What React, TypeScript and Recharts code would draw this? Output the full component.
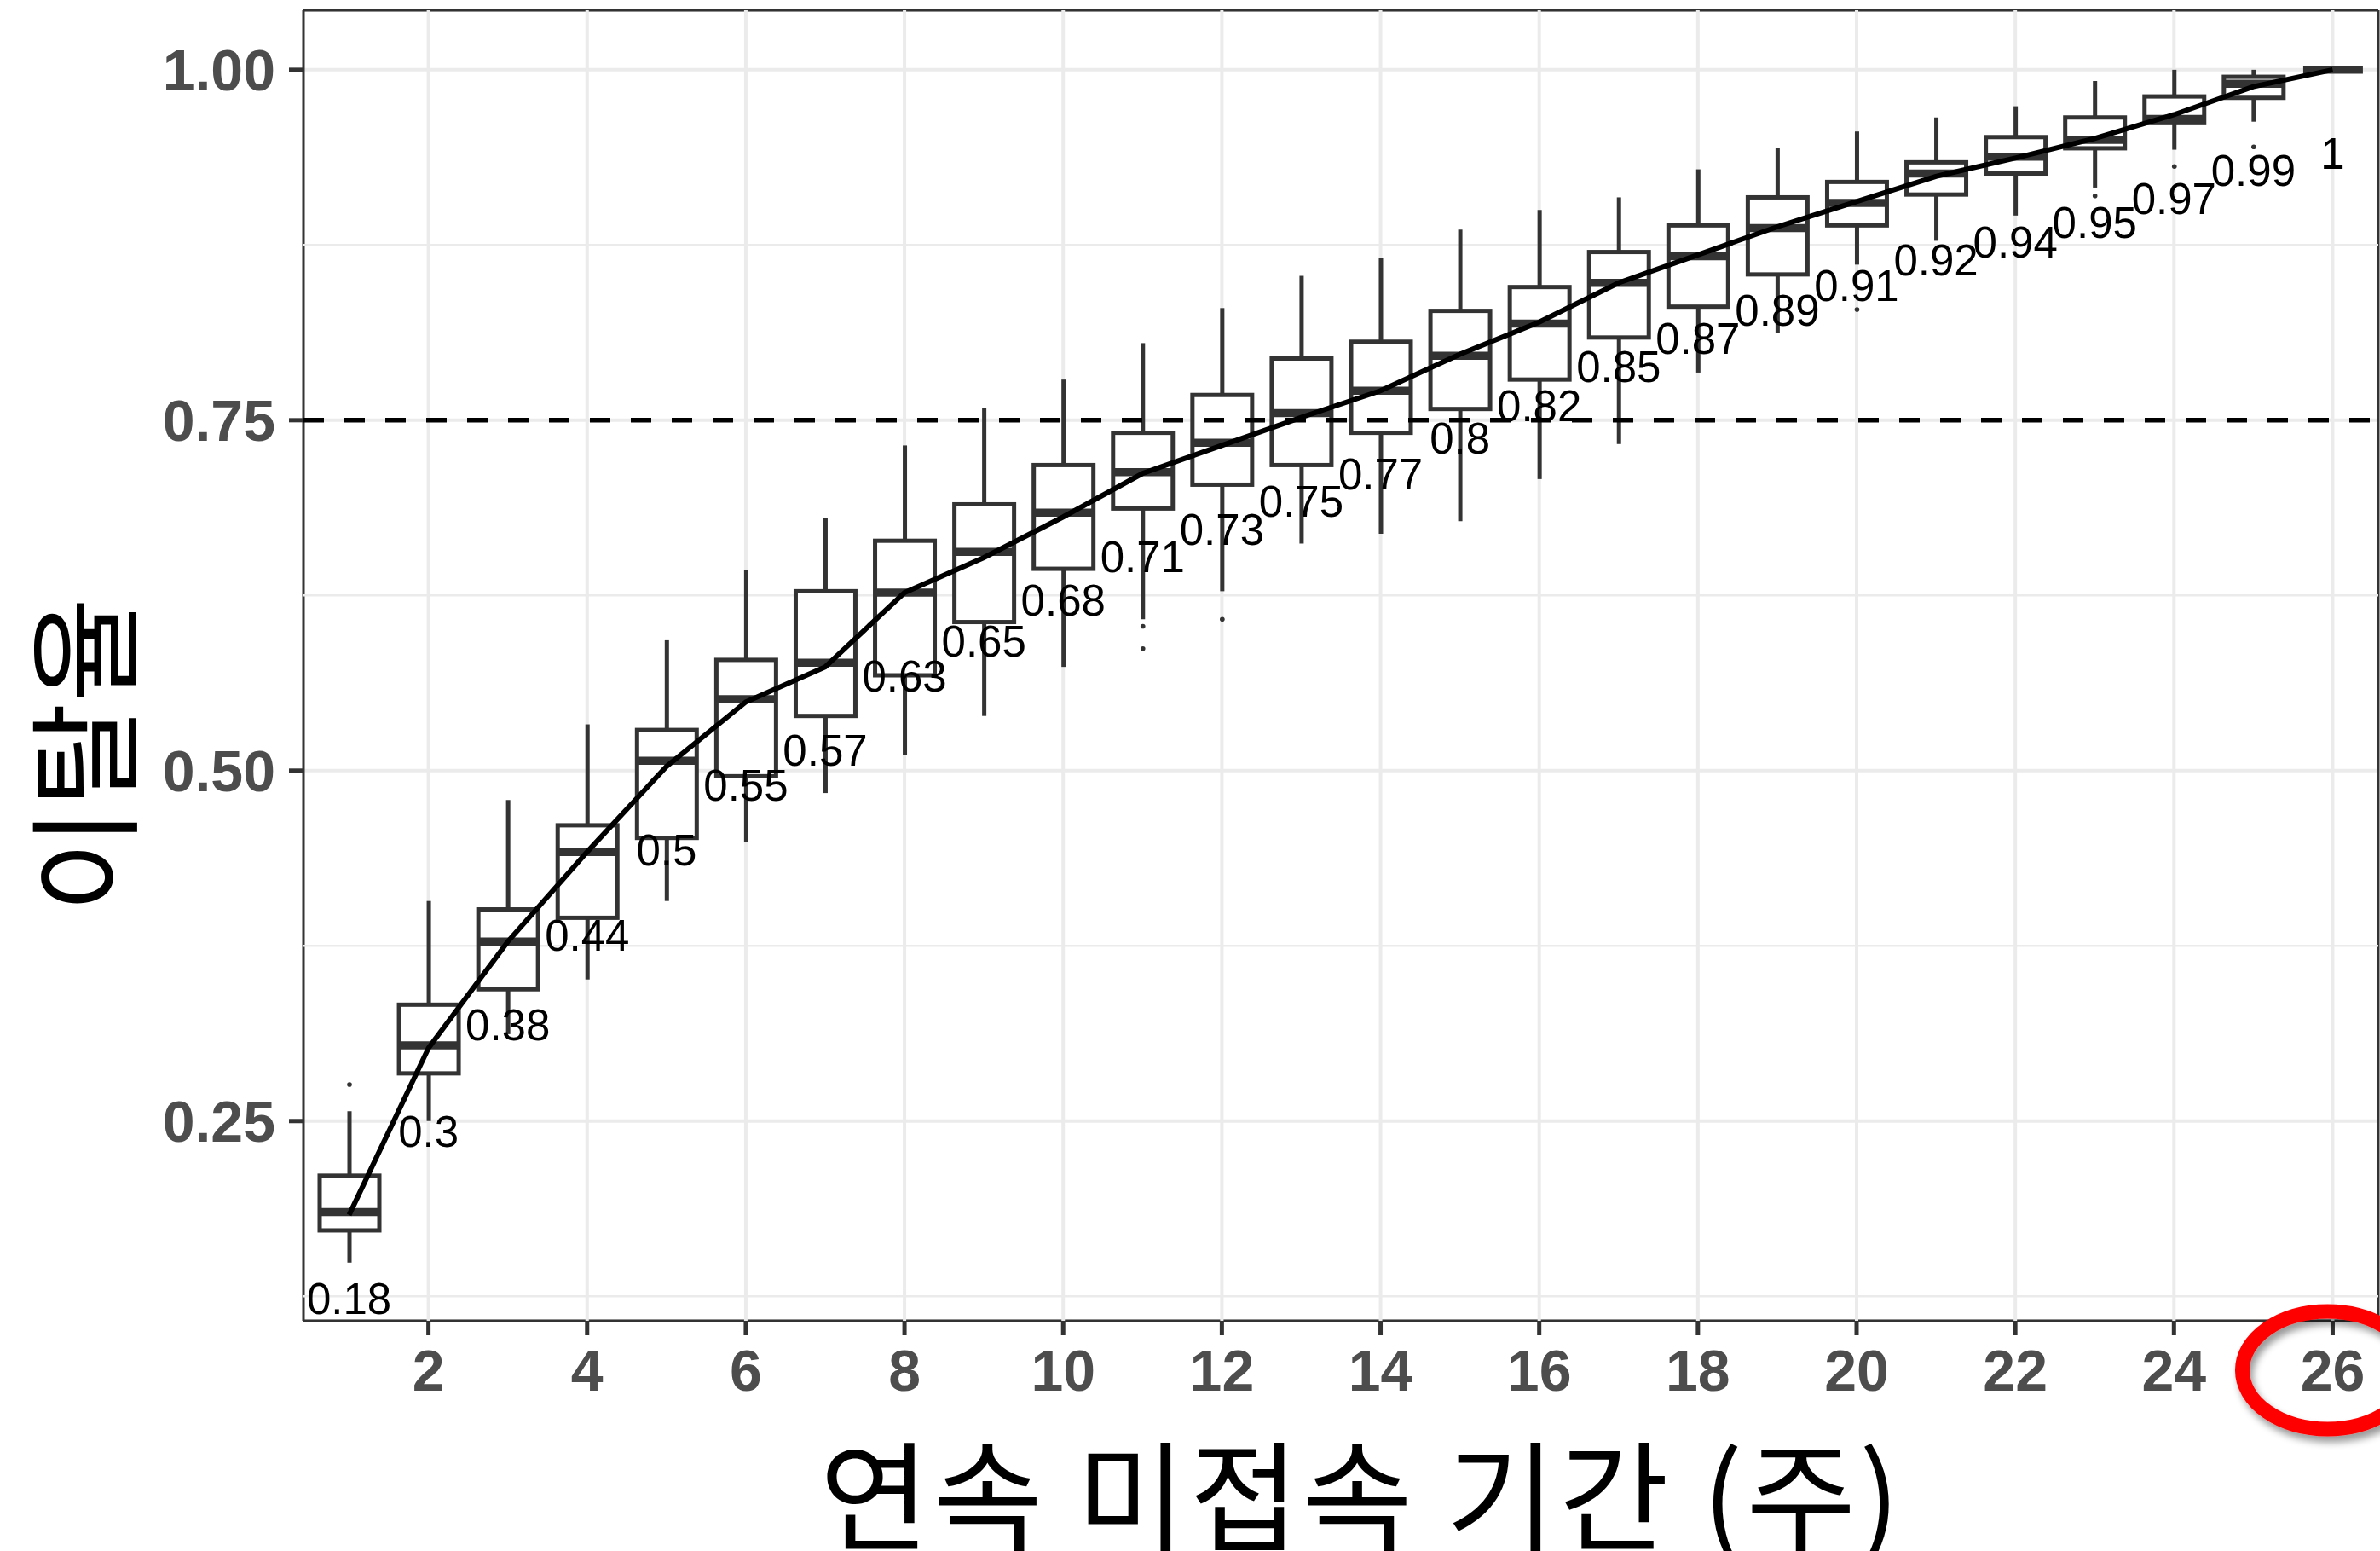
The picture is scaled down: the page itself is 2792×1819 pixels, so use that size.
import React from "react"
import {
  ComposedChart,
  Bar,
  Line,
  XAxis,
  YAxis,
  CartesianGrid,
  ReferenceLine,
  LabelList,
} from "recharts"

// weeks of continuous non-access (x categories)
const weeks = [1, 2, 3, 4, 5, 6, 7, 8, 9, 10, 11, 12, 13, 14, 15, 16, 17, 18, 19, 20, 21, 22, 23, 24, 25, 26]

// boxplot stats per week
const whiskerLow = [0.149, 0.25, 0.312, 0.351, 0.407, 0.449, 0.484, 0.511, 0.539, 0.574, 0.608, 0.628, 0.662, 0.669, 0.678, 0.708, 0.733, 0.784, 0.812, 0.861, 0.878, 0.896, 0.916, 0.943, 0.963, 1.0]
const lowerQuartile = [0.172, 0.284, 0.344, 0.395, 0.452, 0.496, 0.539, 0.568, 0.606, 0.644, 0.687, 0.704, 0.718, 0.741, 0.758, 0.779, 0.809, 0.831, 0.854, 0.889, 0.911, 0.926, 0.944, 0.962, 0.98, 1.0]
const medians = [0.185, 0.304, 0.378, 0.442, 0.507, 0.551, 0.577, 0.627, 0.656, 0.684, 0.713, 0.734, 0.755, 0.771, 0.796, 0.819, 0.848, 0.867, 0.887, 0.905, 0.926, 0.938, 0.95, 0.965, 0.99, 1.0]
const upperQuartile = [0.211, 0.333, 0.401, 0.461, 0.529, 0.579, 0.628, 0.664, 0.69, 0.718, 0.741, 0.768, 0.794, 0.806, 0.828, 0.845, 0.87, 0.889, 0.909, 0.92, 0.934, 0.952, 0.966, 0.981, 0.995, 1.0]
const whiskerHigh = [0.257, 0.407, 0.479, 0.533, 0.593, 0.643, 0.68, 0.732, 0.759, 0.779, 0.805, 0.83, 0.853, 0.866, 0.886, 0.9, 0.909, 0.929, 0.944, 0.956, 0.966, 0.974, 0.992, 1.0, 1.0, 1.0]
const outliers: number[][] = [
  [0.276], [], [], [], [], [], [], [], [], [], [0.603, 0.587], [0.608], [],
  [], [], [], [], [], [], [0.829], [], [], [0.91], [0.931], [0.945], [],
]

// churn rate line (labelled values)
const churnRate = [0.183, 0.302, 0.378, 0.442, 0.503, 0.549, 0.574, 0.627, 0.652, 0.681, 0.712, 0.732, 0.752, 0.771, 0.797, 0.82, 0.848, 0.868, 0.888, 0.906, 0.924, 0.937, 0.951, 0.968, 0.988, 1.0]

const yTicks = [0.25, 0.5, 0.75, 1.0]
const yMinorTicks = [0.125, 0.375, 0.625, 0.875]
const xLabelWeeks = [2, 4, 6, 8, 10, 12, 14, 16, 18, 20, 22, 24, 26]
const circledWeek = 26
const threshold = 0.75

const WIDTH = 2792
const HEIGHT = 1819
const MARGIN = { top: 12, right: 2, left: 0, bottom: 0 }
const Y_AXIS_W = 356
const X_AXIS_H = 270
const Y_DOMAIN: [number, number] = [0.1075, 1.0425]
const PLOT_H = HEIGHT - MARGIN.top - MARGIN.bottom - X_AXIS_H
const LABEL_DROP = (0.06 * PLOT_H) / (Y_DOMAIN[1] - Y_DOMAIN[0])

const NUM_FONT = "'Liberation Sans', Arial, sans-serif"
const KO_FONT = "'Noto Sans CJK KR', sans-serif"
const INK = "#333333"
const GRID = "#ebebeb"

const data = weeks.map((week, i) => ({
  week,
  range: [whiskerLow[i], whiskerHigh[i]],
  lo: whiskerLow[i],
  q1: lowerQuartile[i],
  med: medians[i],
  q3: upperQuartile[i],
  hi: whiskerHigh[i],
  out: outliers[i],
  rate: churnRate[i],
}))

function BoxShape(props: any) {
  const { x, y, width, height, payload } = props
  if (x == null || y == null || !payload) return <g />
  const top = Math.min(y, y + height)
  const bottom = Math.max(y, y + height)
  const span = payload.hi - payload.lo
  const py = (v: number) => (span > 0 ? top + ((payload.hi - v) / span) * (bottom - top) : top)
  const cx = x + width / 2
  return (
    <g>
      <line x1={cx} x2={cx} y1={py(payload.hi)} y2={py(payload.q3)} stroke={INK} strokeWidth={5} />
      <line x1={cx} x2={cx} y1={py(payload.q1)} y2={py(payload.lo)} stroke={INK} strokeWidth={5} />
      <rect
        x={x}
        y={py(payload.q3)}
        width={width}
        height={Math.max(py(payload.q1) - py(payload.q3), 0)}
        fill="#ffffff"
        stroke={INK}
        strokeWidth={5}
      />
      <line x1={x} x2={x + width} y1={py(payload.med)} y2={py(payload.med)} stroke={INK} strokeWidth={9.5} />
      {payload.out.map((v: number, k: number) => (
        <circle key={k} cx={cx} cy={py(v)} r={2.8} fill={INK} />
      ))}
    </g>
  )
}

function WeekTick(props: any) {
  const { x, y, payload } = props
  const w = Number(payload.value)
  if (!xLabelWeeks.includes(w)) return <g />
  return (
    <g>
      <line x1={x} x2={x} y1={y} y2={y + 17} stroke={INK} strokeWidth={5} />
      <text
        x={x}
        y={y + 58}
        textAnchor="middle"
        dominantBaseline="central"
        fontFamily={NUM_FONT}
        fontWeight={700}
        fontSize={68}
        fill="#4d4d4d"
      >
        {w}
      </text>
      {w === circledWeek && (
        <g>
          <defs>
            <filter id="ringShadow" x="-30%" y="-30%" width="160%" height="160%">
              <feDropShadow dx="4" dy="7" stdDeviation="4" floodColor="#000" floodOpacity="0.4" />
            </filter>
          </defs>
          <ellipse
            cx={x - 6}
            cy={y + 58}
            rx={100}
            ry={69}
            fill="none"
            stroke="#ff0000"
            strokeWidth={17}
            filter="url(#ringShadow)"
          />
        </g>
      )}
    </g>
  )
}

function RateLabel(props: any) {
  const { x, y, value } = props
  if (x == null || y == null) return null
  return (
    <text
      x={x}
      y={y + LABEL_DROP}
      textAnchor="middle"
      dominantBaseline="central"
      fontFamily={NUM_FONT}
      fontSize={51}
      fill="#000"
    >
      {String(Number(Number(value).toFixed(2)))}
    </text>
  )
}

export default function App() {
  return (
    <div style={{ position: "absolute", top: 0, left: 0, width: WIDTH, height: HEIGHT, background: "#fff" }}>
      <ComposedChart width={WIDTH} height={HEIGHT} data={data} margin={MARGIN}>
        <CartesianGrid vertical={false} stroke={GRID} strokeWidth={4} />
        <CartesianGrid
          stroke={INK}
          strokeWidth={3}
          fill="none"
          horizontalCoordinatesGenerator={({ offset }: any) =>
            offset ? [offset.top, offset.top + offset.height] : []
          }
          verticalCoordinatesGenerator={({ offset }: any) =>
            offset ? [offset.left, offset.left + offset.width] : []
          }
        />
        <XAxis
          dataKey="week"
          type="category"
          height={X_AXIS_H}
          padding={{ left: 7, right: 7 }}
          interval={0}
          tickSize={0}
          tickMargin={0}
          tickLine={false}
          axisLine={false}
          tick={<WeekTick />}
          label={{
            content: ({ viewBox }: any) => (
              <text
                x={viewBox.x + viewBox.width / 2 + 24}
                y={viewBox.y + 198}
                textAnchor="middle"
                dominantBaseline="central"
                fontFamily={KO_FONT}
                fontWeight={400}
                fontSize={140}
                letterSpacing={4}
                fill="#000"
              >
                연속 미접속 기간 (주)
              </text>
            ),
          }}
        />
        <YAxis
          type="number"
          width={Y_AXIS_W}
          domain={Y_DOMAIN}
          allowDataOverflow
          ticks={yTicks}
          tickFormatter={(v: number) => v.toFixed(2)}
          tick={{ fontSize: 68, fontWeight: 700, fill: "#4d4d4d", fontFamily: NUM_FONT }}
          tickSize={17}
          tickMargin={16}
          tickLine={{ stroke: INK, strokeWidth: 5 }}
          axisLine={false}
          label={{
            content: ({ viewBox }: any) => (
              <text
                transform={`translate(${viewBox.x + 92}, ${viewBox.y + viewBox.height / 2 + 105}) rotate(-90)`}
                textAnchor="middle"
                dominantBaseline="central"
                fontFamily={KO_FONT}
                fontWeight={400}
                fontSize={134}
                fill="#000"
              >
                이탈율
              </text>
            ),
          }}
        />
        {yMinorTicks.map((v) => (
          <ReferenceLine key={`mn${v}`} y={v} stroke={GRID} strokeWidth={2.5} zIndex={-90} />
        ))}
        {xLabelWeeks.map((w) => (
          <ReferenceLine key={`vx${w}`} x={w} stroke={GRID} strokeWidth={4} position="middle" zIndex={-90} />
        ))}
        <Bar dataKey="range" barSize={70} shape={<BoxShape />} isAnimationActive={false} />
        <ReferenceLine y={threshold} stroke="#000" strokeWidth={5.5} strokeDasharray="24 24" zIndex={350} />
        <Line
          dataKey="rate"
          type="linear"
          stroke="#000"
          strokeWidth={6}
          dot={false}
          activeDot={false}
          isAnimationActive={false}
        >
          <LabelList dataKey="rate" content={<RateLabel />} />
        </Line>
      </ComposedChart>
    </div>
  )
}
